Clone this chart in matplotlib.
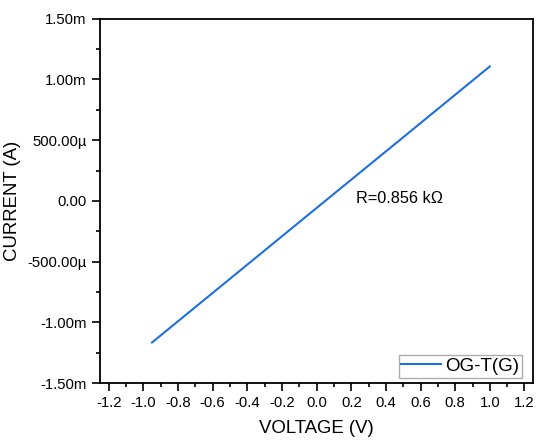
import numpy as np
import matplotlib
matplotlib.use('Agg')
import matplotlib.pyplot as plt
from matplotlib.ticker import MultipleLocator, FuncFormatter

plt.rcParams['font.family'] = ['Liberation Sans', 'DejaVu Sans']

# I-V sweep of OG-T(G)
voltage = [-0.95, -0.5, 0.0, 0.5, 1.0]
current = [-1.165e-3, -0.641e-3, -0.058e-3, 0.524e-3, 1.107e-3]
resistance_label = 'R=0.856 kΩ'
series_name = 'OG-T(G)'


def si_fmt(v, pos):
    if abs(v) < 1e-12:
        return '0.00'
    if abs(v) >= 1e-3:
        return '%.2fm' % (v * 1e3)
    return '%.2fµ' % (v * 1e6)


fig, ax = plt.subplots(figsize=(5.38, 4.44), dpi=100)
fig.subplots_adjust(left=0.186, right=0.991, top=0.958, bottom=0.137)

ax.plot(voltage, current, color='#1f6fe0', lw=1.5, label=series_name)
ax.text(0.23, 0.02e-3, resistance_label, fontsize=11.7, va='center', ha='left')

ax.set_xlim(-1.25, 1.25)
ax.set_ylim(-1.5e-3, 1.5e-3)
ax.xaxis.set_major_locator(MultipleLocator(0.2))
ax.xaxis.set_minor_locator(MultipleLocator(0.1))
ax.yaxis.set_major_locator(MultipleLocator(0.5e-3))
ax.yaxis.set_minor_locator(MultipleLocator(0.25e-3))
ax.xaxis.set_major_formatter(FuncFormatter(lambda v, p: '%.1f' % v if abs(v) > 1e-9 else '0.0'))
ax.yaxis.set_major_formatter(FuncFormatter(si_fmt))

ax.tick_params(which='major', direction='out', length=6, width=1.2, labelsize=10.7)
ax.tick_params(which='minor', direction='out', length=3, width=1.2)
for s in ax.spines.values():
    s.set_linewidth(1.3)

ax.set_xlabel('VOLTAGE (V)', fontsize=13.4, labelpad=7)
ax.set_ylabel('CURRENT (A)', fontsize=13.4, labelpad=5)

leg = ax.legend(loc='lower right', bbox_to_anchor=(0.975, 0.015), fontsize=13.5,
                frameon=True, fancybox=False, handlelength=2.1, borderaxespad=0.0,
                borderpad=0.15, handletextpad=0.25)
leg.get_frame().set_edgecolor('#999999')
leg.get_frame().set_linewidth(1.0)

fig.savefig('out.png', dpi=100)
